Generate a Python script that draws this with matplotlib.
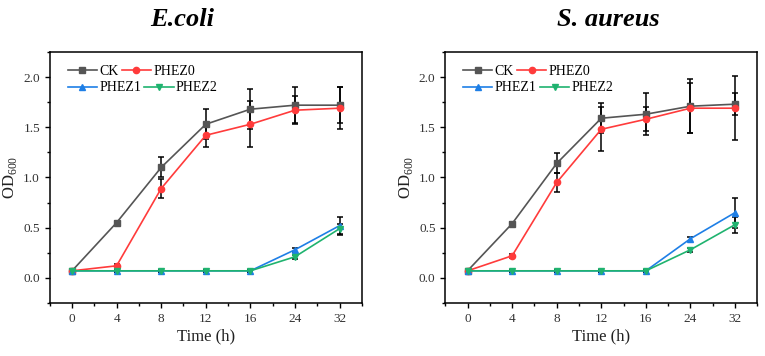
import numpy as np
import matplotlib
matplotlib.use("Agg")
import matplotlib.pyplot as plt
from matplotlib.ticker import MultipleLocator

plt.rcParams['font.family'] = ['Liberation Serif', 'DejaVu Serif']
plt.rcParams['mathtext.fontset'] = 'custom'
plt.rcParams['mathtext.rm'] = 'Liberation Serif'

# categorical time points
times = ['0', '4', '8', '12', '16', '24', '32']
series = ['CK', 'PHEZ0', 'PHEZ1', 'PHEZ2']

# E. coli
ecoli_ck = [0.07, 0.55, 1.10, 1.53, 1.68, 1.72, 1.72]
ecoli_ck_err = [0.01, 0.02, 0.10, 0.15, 0.20, 0.18, 0.18]
ecoli_p0 = [0.07, 0.12, 0.89, 1.42, 1.53, 1.67, 1.69]
ecoli_p0_err = [0.01, 0.02, 0.09, 0.12, 0.23, 0.14, 0.21]
ecoli_p1 = [0.07, 0.07, 0.07, 0.07, 0.07, 0.28, 0.52]
ecoli_p1_err = [0.01, 0.01, 0.01, 0.01, 0.01, 0.02, 0.09]
ecoli_p2 = [0.07, 0.07, 0.07, 0.07, 0.07, 0.21, 0.49]
ecoli_p2_err = [0.01, 0.01, 0.01, 0.01, 0.01, 0.02, 0.05]

# S. aureus
sa_ck = [0.07, 0.54, 1.14, 1.59, 1.63, 1.71, 1.73]
sa_ck_err = [0.01, 0.02, 0.10, 0.15, 0.21, 0.27, 0.11]
sa_p0 = [0.07, 0.22, 0.95, 1.48, 1.58, 1.69, 1.69]
sa_p0_err = [0.01, 0.02, 0.09, 0.22, 0.12, 0.25, 0.32]
sa_p1 = [0.07, 0.07, 0.07, 0.07, 0.07, 0.39, 0.65]
sa_p1_err = [0.01, 0.01, 0.01, 0.01, 0.01, 0.02, 0.15]
sa_p2 = [0.07, 0.07, 0.07, 0.07, 0.07, 0.28, 0.53]
sa_p2_err = [0.01, 0.01, 0.01, 0.01, 0.01, 0.02, 0.08]

colors = ['#555555', '#ff3b3b', '#1e7fe6', '#1fb36f']
markers = ['s', 'o', '^', 'v']

fig = plt.figure(figsize=(7.65, 3.56), dpi=100)
ax1 = fig.add_axes([0.065, 0.149, 0.408, 0.705])
ax2 = fig.add_axes([0.582, 0.149, 0.408, 0.705])

panels = [
    (ax1, [ecoli_ck, ecoli_p0, ecoli_p1, ecoli_p2],
     [ecoli_ck_err, ecoli_p0_err, ecoli_p1_err, ecoli_p2_err]),
    (ax2, [sa_ck, sa_p0, sa_p1, sa_p2],
     [sa_ck_err, sa_p0_err, sa_p1_err, sa_p2_err]),
]

leg_kw = dict(ncol=2, loc='center left', frameon=False, fontsize=10,
              handlelength=2.1, handletextpad=0.15, columnspacing=0.25,
              borderpad=0, borderaxespad=0)

x = np.arange(len(times))
for ax, vals, errs in panels:
    handles = []
    for name, v, e, c, m in zip(series, vals, errs, colors, markers):
        ax.errorbar(x, v, yerr=e, fmt='none', ecolor='black', elinewidth=1.1,
                    capsize=2.5, capthick=1.1, zorder=2)
        h, = ax.plot(x, v, color=c, marker=m, markersize=4.5, linewidth=1.2,
                     label=name, zorder=3)
        handles.append(h)
    ax.set_xlim(-0.5, 6.5)
    ax.set_ylim(-0.25, 2.25)
    ax.set_xticks(x)
    ax.set_xticklabels(times)
    ax.set_xticks(np.arange(-0.5, 7, 1.0), minor=True)
    ax.yaxis.set_major_locator(MultipleLocator(0.5))
    ax.yaxis.set_minor_locator(MultipleLocator(0.25))
    ax.tick_params(axis='both', which='major', direction='out', length=3.5,
                   width=1, labelsize=9.5, colors='black', labelcolor='#333333')
    ax.tick_params(axis='both', which='minor', direction='out', length=2, width=1)
    ax.tick_params(top=False, right=False)
    for s in ax.spines.values():
        s.set_linewidth(1.1)
    ax.set_xlabel('Time (h)', fontsize=12, color='#222222', labelpad=3)
    ax.set_ylabel('OD$_{600}$', fontsize=12, color='#222222', labelpad=3)
    # two legend rows, each packed tight: CK PHEZ0 / PHEZ1 PHEZ2
    leg1 = ax.legend(handles[:2], series[:2], bbox_to_anchor=(0.058, 0.924), **leg_kw)
    ax.add_artist(leg1)
    ax.legend(handles[2:], series[2:], bbox_to_anchor=(0.058, 0.857), **leg_kw)

fig.text(0.238, 0.945, 'E.coli', fontsize=19, fontweight='bold', style='italic',
         ha='center', va='center')
fig.text(0.795, 0.945, 'S. aureus', fontsize=19, fontweight='bold', style='italic',
         ha='center', va='center')

fig.savefig('out.png', dpi=100)
